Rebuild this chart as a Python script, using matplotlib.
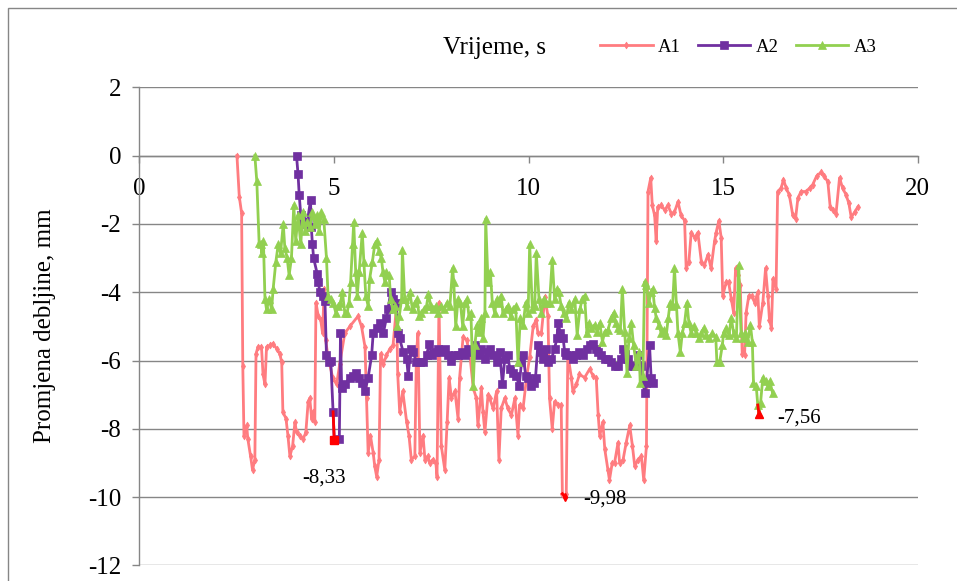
import matplotlib
matplotlib.use("Agg")
import matplotlib.pyplot as plt
from matplotlib.patches import Rectangle
import numpy as np

plt.rcParams['font.family'] = ['Liberation Serif', 'DejaVu Serif']
plt.rcParams['axes.unicode_minus'] = False

# (time s, thickness change mm)
a1_points = [
    (2.51, 0), (2.57, -1.2), (2.63, -1.68), (2.66, -6.15), (2.69, -8.2), (2.76, -7.9),
    (2.79, -8.3), (2.86, -8.8), (2.91, -9.2), (2.97, -8.9), (3.00, -5.8), (3.05, -5.6),
    (3.14, -5.6), (3.18, -6.4), (3.23, -6.7), (3.27, -5.6), (3.36, -5.55), (3.43, -5.5),
    (3.53, -5.65), (3.61, -5.8), (3.66, -6.05), (3.69, -7.5), (3.77, -7.7), (3.82, -8.2),
    (3.87, -8.8), (3.94, -8.5), (4.00, -7.8), (4.04, -8.1), (4.13, -8.2), (4.21, -8.3),
    (4.28, -8.1), (4.34, -7.2), (4.38, -7.1), (4.43, -7.7), (4.47, -7.5), (4.51, -7.8),
    (4.54, -4.3), (4.60, -4.7), (4.66, -4.8), (4.71, -5.2), (4.75, -3.9), (4.79, -5.4),
    (4.85, -5.9), (4.97, -6.5), (5.07, -6.7), (5.15, -6.1), (5.28, -5.2), (5.41, -5.0),
    (5.62, -4.7), (5.71, -5.0), (5.80, -5.6), (5.84, -7.1), (5.88, -8.7), (5.94, -8.2),
    (6.01, -8.7), (6.05, -9.1), (6.10, -9.4), (6.16, -8.9), (6.20, -5.8), (6.27, -6.1),
    (6.35, -5.85), (6.44, -5.65), (6.52, -5.55), (6.61, -4.4), (6.64, -6.4), (6.69, -7.5),
    (6.77, -6.9), (6.87, -7.8), (6.93, -8.2), (6.99, -8.9), (7.08, -8.8), (7.12, -5.8),
    (7.16, -5.2), (7.21, -8.7), (7.29, -8.2), (7.34, -8.9), (7.41, -8.8), (7.46, -9.0),
    (7.54, -8.9), (7.62, -9.0), (7.65, -9.4), (7.70, -4.3), (7.76, -8.5), (7.85, -9.2),
    (7.91, -7.8), (7.96, -6.5), (8.02, -7.1), (8.11, -6.9), (8.19, -7.7), (8.23, -6.5),
    (8.32, -5.3), (8.41, -5.4), (8.49, -5.8), (8.58, -6.8), (8.66, -7.1), (8.70, -7.9),
    (8.79, -6.8), (8.83, -7.5), (8.88, -8.1), (8.96, -7.0), (9.00, -7.1), (9.09, -7.4),
    (9.18, -6.9), (9.24, -8.9), (9.30, -7.4), (9.39, -7.1), (9.47, -7.4), (9.56, -7.6),
    (9.65, -7.1), (9.73, -8.2), (9.77, -7.3), (9.86, -7.4), (9.95, -6.5), (10.03, -5.9),
    (10.12, -5.0), (10.20, -4.8), (10.24, -5.2), (10.33, -5.2), (10.42, -4.15), (10.50, -4.7),
    (10.54, -7.1), (10.61, -8.0), (10.67, -7.2), (10.76, -7.3), (10.84, -7.3), (10.87, -9.9),
    (10.93, -9.98), (10.97, -9.9), (11.01, -5.8), (11.10, -6.5), (11.14, -6.9), (11.23, -6.7),
    (11.31, -6.4), (11.44, -6.5), (11.57, -6.25), (11.66, -6.45), (11.74, -6.5), (11.79, -7.6),
    (11.83, -8.2), (11.91, -7.8), (11.96, -8.6), (12.04, -9.2), (12.08, -9.5), (12.15, -9.0),
    (12.21, -9.0), (12.30, -8.4), (12.34, -9.0), (12.43, -8.9), (12.51, -8.4), (12.60, -7.9),
    (12.67, -8.5), (12.73, -9.1), (12.81, -8.9), (12.90, -8.8), (12.96, -9.5), (13.03, -8.5),
    (13.07, -1.05), (13.14, -0.65), (13.18, -1.45), (13.24, -1.75), (13.28, -2.5), (13.32, -1.5),
    (13.41, -1.45), (13.50, -1.6), (13.58, -1.45), (13.67, -1.7), (13.75, -1.65), (13.84, -1.35),
    (13.92, -1.75), (14.01, -1.9), (14.05, -3.3), (14.12, -3.1), (14.18, -2.25), (14.27, -2.4),
    (14.35, -2.25), (14.44, -3.1), (14.52, -3.2), (14.61, -2.9), (14.69, -3.3), (14.78, -2.5),
    (14.82, -2.25), (14.89, -1.9), (14.95, -2.4), (14.99, -4.1), (15.08, -3.7), (15.14, -3.7),
    (15.21, -4.2), (15.27, -4.6), (15.32, -3.3), (15.38, -3.5), (15.44, -3.8), (15.49, -5.8),
    (15.55, -5.85), (15.59, -4.6), (15.66, -4.1), (15.73, -4.1), (15.81, -4.3), (15.89, -4.0),
    (15.93, -5.0), (16.02, -4.3), (16.09, -3.3), (16.15, -4.1), (16.19, -4.8), (16.24, -5.05),
    (16.28, -3.6), (16.36, -3.9), (16.40, -1.05), (16.49, -0.95), (16.55, -0.7), (16.62, -0.95),
    (16.70, -1.15), (16.79, -1.75), (16.86, -1.85), (16.92, -1.25), (17.00, -1.05), (17.13, -1.05),
    (17.22, -0.95), (17.30, -0.85), (17.40, -0.6), (17.52, -0.48), (17.60, -0.6), (17.69, -0.77),
    (17.75, -1.5), (17.82, -1.6), (17.90, -1.7), (17.99, -0.65), (18.07, -0.95), (18.16, -1.15),
    (18.23, -1.4), (18.29, -1.8), (18.38, -1.65), (18.46, -1.5),
]

a2_points = [
    (4.04, 0), (4.08, -0.55), (4.11, -1.15), (4.15, -1.75), (4.20, -1.95), (4.26, -1.95),
    (4.31, -2.0), (4.40, -1.3), (4.42, -2.1), (4.45, -2.6), (4.48, -3.0), (4.57, -3.45),
    (4.60, -3.7), (4.64, -4.0), (4.71, -4.1), (4.77, -4.25), (4.81, -5.85), (4.88, -6.05),
    (4.92, -6.0), (4.98, -7.5), (5.01, -8.33), (5.14, -8.3), (5.17, -5.2), (5.20, -6.8),
    (5.28, -6.7), (5.41, -6.5), (5.50, -6.45), (5.58, -6.35), (5.64, -6.5), (5.71, -6.65),
    (5.80, -6.9), (5.88, -6.5), (5.97, -5.85), (6.01, -5.2), (6.10, -5.05), (6.18, -4.9),
    (6.27, -5.2), (6.35, -4.75), (6.39, -4.5), (6.46, -4.0), (6.52, -4.2), (6.59, -4.3),
    (6.65, -5.2), (6.69, -5.35), (6.78, -5.75), (6.87, -5.95), (6.91, -6.45), (6.97, -5.65),
    (7.04, -5.75), (7.12, -6.05), (7.21, -6.05), (7.29, -6.05), (7.38, -5.85), (7.45, -5.5),
    (7.51, -5.85), (7.59, -5.75), (7.68, -5.65), (7.76, -5.75), (7.85, -5.65), (7.93, -5.85),
    (8.02, -6.0), (8.10, -5.85), (8.19, -5.85), (8.28, -5.75), (8.36, -5.85), (8.45, -5.65),
    (8.53, -5.75), (8.62, -5.55), (8.70, -5.85), (8.79, -5.65), (8.88, -5.95), (8.96, -5.75),
    (9.00, -5.65), (9.09, -5.85), (9.18, -6.05), (9.26, -5.75), (9.33, -6.7), (9.39, -5.95),
    (9.47, -5.85), (9.52, -6.25), (9.60, -6.35), (9.69, -6.45), (9.76, -6.75), (9.82, -6.05),
    (9.86, -5.85), (9.93, -6.45), (9.99, -6.5), (10.07, -6.75), (10.13, -6.65), (10.18, -6.5),
    (10.24, -5.55), (10.31, -5.75), (10.37, -5.95), (10.44, -5.65), (10.50, -6.05), (10.59, -5.95),
    (10.67, -5.65), (10.73, -5.35), (10.76, -4.9), (10.82, -5.2), (10.89, -5.35), (10.93, -5.75),
    (10.97, -5.85), (11.06, -5.85), (11.14, -5.95), (11.23, -5.85), (11.31, -5.75), (11.40, -5.85),
    (11.49, -5.65), (11.57, -5.55), (11.66, -5.5), (11.74, -5.65), (11.78, -5.75), (11.87, -5.85),
    (11.96, -5.95), (12.04, -5.95), (12.13, -6.05), (12.21, -6.15), (12.30, -6.15), (12.38, -5.95),
    (12.43, -5.65), (12.49, -5.8), (12.55, -5.95), (12.64, -6.15), (12.72, -6.15), (12.81, -5.85),
    (12.90, -6.15), (12.98, -6.95), (13.03, -6.65), (13.11, -5.55), (13.15, -6.5), (13.20, -6.65),
]

a3_points = [
    (2.97, 0), (3.02, -0.75), (3.08, -2.55), (3.12, -2.6), (3.15, -2.85), (3.19, -2.5),
    (3.23, -4.2), (3.27, -4.5), (3.34, -4.2), (3.40, -4.5), (3.44, -3.9), (3.51, -3.1),
    (3.57, -2.6), (3.63, -2.85), (3.70, -2.0), (3.74, -2.7), (3.80, -3.0), (3.85, -3.5),
    (3.91, -3.0), (3.97, -1.45), (4.02, -2.5), (4.08, -1.75), (4.15, -2.6), (4.20, -1.65),
    (4.26, -2.2), (4.31, -1.95), (4.38, -2.1), (4.45, -1.65), (4.51, -2.0), (4.57, -1.75),
    (4.62, -2.2), (4.68, -1.65), (4.74, -1.85), (4.81, -3.0), (4.85, -4.1), (4.92, -4.2),
    (4.98, -4.3), (5.05, -4.6), (5.11, -4.4), (5.17, -4.3), (5.22, -4.0), (5.28, -4.6),
    (5.34, -4.6), (5.39, -4.3), (5.43, -3.7), (5.48, -2.6), (5.51, -1.95), (5.56, -3.4),
    (5.60, -4.1), (5.65, -3.4), (5.73, -2.25), (5.77, -3.1), (5.82, -4.1), (5.88, -4.4),
    (5.92, -3.6), (5.99, -3.1), (6.05, -2.6), (6.11, -2.5), (6.16, -2.8), (6.22, -3.0),
    (6.26, -3.4), (6.31, -3.7), (6.35, -3.4), (6.42, -3.5), (6.46, -4.2), (6.51, -4.5),
    (6.57, -4.4), (6.63, -5.0), (6.68, -4.7), (6.74, -4.2), (6.76, -2.75), (6.82, -4.2),
    (6.88, -4.4), (6.95, -4.0), (7.02, -4.5), (7.08, -4.3), (7.14, -4.2), (7.19, -4.7),
    (7.25, -4.6), (7.31, -4.5), (7.38, -4.4), (7.43, -4.05), (7.49, -4.4), (7.55, -4.5),
    (7.62, -4.4), (7.68, -4.6), (7.75, -4.4), (7.82, -4.5), (7.91, -4.3), (7.98, -4.4),
    (8.05, -3.3), (8.08, -3.7), (8.13, -5.0), (8.19, -4.2), (8.25, -4.3), (8.31, -5.0),
    (8.36, -4.3), (8.42, -4.2), (8.47, -4.7), (8.52, -4.6), (8.58, -6.75), (8.62, -5.55),
    (8.68, -4.95), (8.73, -5.15), (8.79, -4.75), (8.83, -5.35), (8.88, -4.6), (8.90, -1.85),
    (8.96, -3.7), (9.02, -3.4), (9.07, -4.3), (9.13, -4.6), (9.19, -4.2), (9.25, -4.3),
    (9.30, -4.1), (9.34, -4.6), (9.41, -4.5), (9.47, -4.4), (9.54, -4.7), (9.60, -4.5),
    (9.67, -4.4), (9.73, -6.05), (9.79, -4.75), (9.86, -4.95), (9.93, -4.3), (9.99, -4.6),
    (10.03, -2.6), (10.10, -4.5), (10.16, -4.4), (10.20, -2.85), (10.27, -4.2), (10.33, -4.6),
    (10.39, -4.2), (10.46, -4.3), (10.54, -4.3), (10.61, -3.05), (10.67, -4.2), (10.73, -3.9),
    (10.78, -4.0), (10.84, -4.4), (10.90, -4.6), (10.97, -4.75), (11.04, -4.3), (11.10, -4.5),
    (11.19, -4.2), (11.25, -5.25), (11.32, -4.5), (11.38, -4.2), (11.44, -4.1), (11.50, -5.2),
    (11.55, -4.9), (11.61, -5.05), (11.70, -4.95), (11.76, -5.15), (11.83, -4.9), (11.90, -5.45),
    (11.96, -5.15), (12.04, -5.1), (12.13, -4.75), (12.19, -4.6), (12.24, -4.9), (12.30, -5.05),
    (12.36, -5.1), (12.41, -3.9), (12.47, -5.15), (12.53, -6.35), (12.58, -5.35), (12.64, -4.9),
    (12.70, -5.55), (12.77, -6.15), (12.84, -5.75), (12.87, -6.65), (12.94, -6.45), (12.98, -3.7),
    (13.03, -3.8), (13.09, -4.3), (13.15, -4.0), (13.19, -3.9), (13.24, -4.45), (13.28, -4.75),
    (13.35, -4.95), (13.41, -5.2), (13.47, -5.1), (13.54, -5.25), (13.59, -4.75), (13.64, -4.3),
    (13.70, -4.4), (13.75, -3.3), (13.80, -4.35), (13.84, -5.2), (13.90, -5.75), (13.95, -5.2),
    (14.01, -4.9), (14.07, -4.3), (14.12, -4.9), (14.18, -5.2), (14.24, -5.0), (14.31, -5.2),
    (14.38, -5.35), (14.44, -5.2), (14.50, -5.05), (14.57, -5.25), (14.63, -5.35), (14.72, -5.2),
    (14.81, -5.3), (14.84, -6.05), (14.91, -6.05), (14.98, -5.55), (15.01, -5.2), (15.08, -5.05),
    (15.15, -5.25), (15.21, -4.75), (15.27, -5.2), (15.34, -5.35), (15.40, -3.2), (15.46, -5.2),
    (15.51, -5.35), (15.57, -5.2), (15.63, -5.45), (15.70, -4.95), (15.75, -5.45), (15.78, -6.65),
    (15.85, -6.75), (15.89, -7.3), (15.92, -7.56), (15.96, -7.25), (16.02, -6.5), (16.09, -6.6),
    (16.15, -6.75), (16.20, -6.6), (16.27, -6.95),
]

series_names = ['A1', 'A2', 'A3']
series_colors = ['#FF7C80', '#7030A0', '#92D050']
series_markers = ['d', 's', '^']
series_msize = [3.5, 5.5, 5.5]
label_offsets = [(29, -1.5), (-7, -27), (29, -3)]

fig = plt.figure(figsize=(9.57, 5.81), dpi=100)
ax = fig.add_axes([0.1455, 0.0267, 0.8135, 0.8229])

grid_c = '#868686'
for name, pts, col, mk, ms, off in zip(series_names, [a1_points, a2_points, a3_points],
                                       series_colors, series_markers, series_msize, label_offsets):
    t = np.array([p[0] for p in pts])
    v = np.array([p[1] for p in pts])
    ax.plot(t, v, color=col, lw=2.0, marker=mk, markersize=ms, markeredgewidth=0.5,
            markeredgecolor=col, label=name, zorder=3)
    # minimum highlighted in red, as in the source chart
    i = int(np.argmin(v))
    ax.plot(t[i - 1:i + 1], v[i - 1:i + 1], color='red', lw=2.0, zorder=4)
    ax.plot(t[i], v[i], marker=mk, markersize=ms + 0.5, color='red', zorder=5)
    ax.annotate(f"{v[i]:.2f}".replace('.', ','), (t[i], v[i]), xytext=off,
                textcoords='offset points', ha='center', va='center', fontsize=15)

ax.set_xlim(0, 20)
ax.set_ylim(-12, 2)
ax.set_xticks([0, 5, 10, 15, 20])
ax.set_yticks(np.arange(-12, 3, 2))
ax.yaxis.grid(True, color=grid_c, lw=1.0)
ax.set_axisbelow(True)

ax.spines['top'].set_visible(False)
ax.spines['right'].set_visible(False)
ax.spines['bottom'].set_position(('data', 0))
for s in ('bottom', 'left'):
    ax.spines[s].set_color(grid_c)
    ax.spines[s].set_linewidth(1.0)
ax.tick_params(axis='both', colors=grid_c, labelcolor='black', labelsize=18, width=1.0)
ax.tick_params(axis='y', length=5, pad=8)
ax.tick_params(axis='x', length=5, pad=11)

fig.text(0.047, 0.44, 'Promjena debljine, mm', rotation=90, ha='center', va='center',
         fontsize=18)
fig.text(443 / 957, 1 - 48 / 581, 'Vrijeme, s', ha='left', va='center', fontsize=18)

fig.legend(loc='center left', bbox_to_anchor=(600 / 957, 1 - 47 / 581), ncol=3,
           frameon=False, fontsize=13.5, handlelength=2.8, handletextpad=0.3,
           columnspacing=0.9, borderpad=0, borderaxespad=0)

fig.patches.append(Rectangle((8 / 957, -0.1), 1.2, 1.1 - 8 / 581, transform=fig.transFigure,
                             fill=False, edgecolor=grid_c, lw=1.0))

fig.savefig('out.png', dpi=100)
